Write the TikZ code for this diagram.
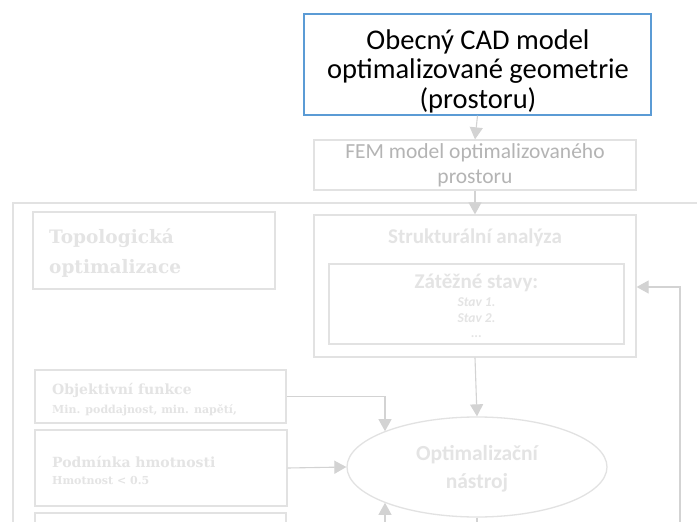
\documentclass[tikz,border=0pt]{standalone}
\usepackage{fontspec}
\setmainfont{Carlito}
\newfontfamily\slab{DejaVu Serif}
\usetikzlibrary{arrows.meta,shapes.geometric}
\definecolor{blueedge}{HTML}{5B9BD5}
\definecolor{paleline}{HTML}{E2E2E2}
\definecolor{paletext}{HTML}{E4E4E4}
\definecolor{femtext}{HTML}{B4B4B4}
\definecolor{arrowgrey}{HTML}{D3D3D3}
\tikzset{
  box/.style={draw=paleline, line width=1.3pt, inner sep=0pt},
  conn/.style={draw=arrowgrey, line width=1.1pt, -{Triangle[width=13pt,length=12pt,fill=arrowgrey]}},
  plain/.style={draw=arrowgrey, line width=1.1pt},
  slabtitle/.style={text=paletext, font=\slab\bfseries\fontsize{18.5}{30}\selectfont, align=left, inner sep=0pt, anchor=west},
  slabsmall/.style={text=paletext, font=\slab\bfseries\fontsize{11}{12}\selectfont, inner sep=0pt, anchor=west},
}
\begin{document}
\begin{tikzpicture}[x=1pt,y=-1pt]
\useasboundingbox[fill=white] (0,0) rectangle (697,522);
\begin{scope}
\clip (0,0) rectangle (697,522);
% outer frame (open right and bottom)
\draw[paleline, line width=1.3pt] (697,203) -- (13,203) -- (13,530);
% top CAD box
\node[draw=blueedge, line width=1.3pt, minimum width=347pt, minimum height=101pt, inner sep=0pt] (cad) at (477.5,64.5) {};
\node[align=center, font=\fontsize{28.5}{29.5}\selectfont, text=black, inner sep=0pt] (cadt) at (478,71)
  {Obecný CAD model\\optimalizované geometrie\\(prostoru)};
% FEM box
\node[box, minimum width=322pt, minimum height=50pt, align=center,
  font=\fontsize{21.5}{25}\selectfont, text=femtext] (fem) at (475,165)
  {FEM model optimalizovaného\\prostoru};
% topology box
\node[box, minimum width=242pt, minimum height=77pt] (topo) at (154,250.5) {};
\node[slabtitle] (topot) at (49,253) {Topologická\\optimalizace};
% structural analysis
\node[box, minimum width=322pt, minimum height=142pt] (struct) at (475,286) {};
\node[text=paletext, font=\bfseries\fontsize{21}{22}\selectfont, inner sep=0pt] (structt) at (475,238) {Strukturální analýza};
\node[box, minimum width=295pt, minimum height=80pt] (zat) at (476.5,304) {};
\node[text=paletext, font=\bfseries\fontsize{21}{24}\selectfont, inner sep=0pt] (zatt) at (476.5,283) {Zátěžné stavy:};
\node[text=paletext, font=\bfseries\itshape\fontsize{13.5}{15.5}\selectfont, align=center, inner sep=0pt] (stavy) at (476.5,318)
  {Stav 1.\\Stav 2.\\...};
% optimisation tool
\node[draw=paleline, line width=1.3pt, ellipse, minimum width=260pt, minimum height=100pt, inner sep=0pt] (opt) at (477,467) {};
\node[text=paletext, font=\bfseries\fontsize{21.5}{28}\selectfont, align=center, inner sep=0pt] (optt) at (477,469)
  {Optimalizační\\nástroj};
% objective function
\node[box, minimum width=251pt, minimum height=53pt] (obj) at (160.5,396.5) {};
\node[slabtitle, font=\slab\bfseries\fontsize{14}{16}\selectfont] (objt) at (52,390) {Objektivní funkce};
\node[slabsmall] (objs) at (52,410) {Min. poddajnost, min. napětí,};
% mass constraint
\node[box, minimum width=252pt, minimum height=76pt] (podm) at (161,468) {};
\node[slabtitle, font=\slab\bfseries\fontsize{14}{16}\selectfont] (podmt) at (52,462) {Podmínka hmotnosti};
\node[slabsmall] (podms) at (52,480) {Hmotnost < 0.5};
% bottom box (cut off)
\node[box, minimum width=251pt, minimum height=40pt] (low) at (160.5,533) {};
% connectors
\draw[conn] (cad.south) -- (fem.north);
\draw[conn] (fem.south) -- (struct.north);
\draw[conn] (struct.south) -- (opt.north);
\draw[conn] (obj.east) -| (opt.north west -| 385,0);
\coordinate (fbstart) at (680,530);
\coordinate (fbturn) at (680,287);
\draw[conn] (fbstart) -- (fbturn) -- (fbturn -| struct.east);
\draw[conn] (podm.east) -- (opt.west);
\coordinate (upstart) at (385,530);
\draw[conn] (upstart) -- (opt.south west -| 385,0);
\coordinate (downend) at (477,530);
\draw[plain] (opt.south) -- (downend);
\end{scope}
\end{tikzpicture}
\end{document}
